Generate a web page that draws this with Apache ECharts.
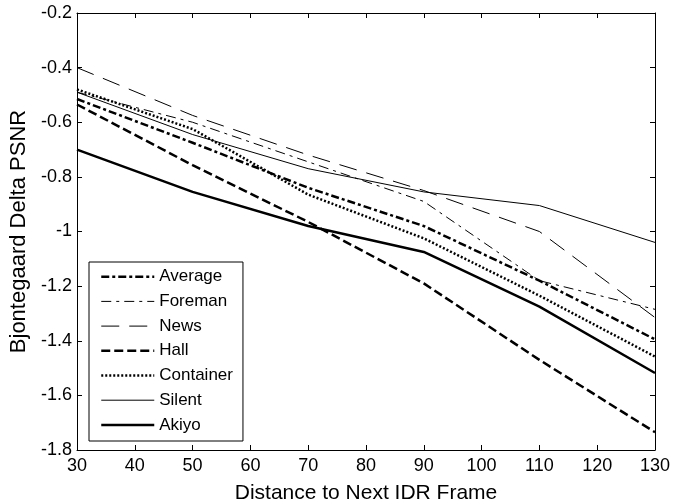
<!DOCTYPE html>
<html>
<head>
<meta charset="utf-8">
<script src="https://cdn.jsdelivr.net/npm/echarts@6/dist/echarts.min.js"></script>
<style>
  html, body { margin: 0; padding: 0; background: #fff; }
  #chart { width: 673px; height: 502px; }
</style>
</head>
<body>
<div id="chart"></div>
<script>
// x 位置（到下一个 IDR 帧的距离）
const distances = [30, 50, 70, 90, 110, 130]
const average = [-0.515, -0.675, -0.84, -0.98, -1.18, -1.395]
const foreman = [-0.49, -0.60, -0.745, -0.89, -1.18, -1.285]
const news = [-0.40, -0.575, -0.72, -0.85, -1.0, -1.315]
const hall = [-0.535, -0.757, -0.965, -1.19, -1.47, -1.735]
const container = [-0.48, -0.625, -0.865, -1.025, -1.235, -1.458]
const silent = [-0.49, -0.645, -0.77, -0.855, -0.905, -1.04]
const akiyo = [-0.70, -0.855, -0.98, -1.075, -1.275, -1.518]

const font = 'Liberation Sans, Arial, sans-serif'

// 线型：宽度、虚线样式
const styles = {
  Average: { width: 2.5, type: [8, 3, 3, 3] },
  Foreman: { width: 1, type: [10, 5, 3, 5] },
  News: { width: 1, type: [18, 10] },
  Hall: { width: 2.5, type: [9, 4] },
  Container: { width: 2.5, type: [2, 2] },
  Silent: { width: 1, type: 'solid' },
  Akiyo: { width: 2.5, type: 'solid' }
}
const seriesValues = {
  Average: average,
  Foreman: foreman,
  News: news,
  Hall: hall,
  Container: container,
  Silent: silent,
  Akiyo: akiyo
}
const names = Object.keys(seriesValues)

function pairs(ys) {
  return distances.map((x, i) => [x, ys[i]])
}

const chart = echarts.init(document.getElementById('chart'))
const axisLine = { show: true, lineStyle: { color: '#000', width: 1 } }
const tick = { inside: true, length: 5, lineStyle: { color: '#000' } }
const option = {
  backgroundColor: '#fff',
  animation: false,
  grid: { left: 77, right: 18, top: 13, bottom: 52, outerBoundsMode: 'none' },
  legend: {
    orient: 'vertical',
    left: 89,
    top: 262,
    padding: [6.2, 10, 7.6, 11],
    itemWidth: 53,
    itemHeight: 12,
    itemGap: 7.7,
    backgroundColor: '#fff',
    borderColor: '#000',
    borderWidth: 1,
    itemStyle: { opacity: 0 },
    textStyle: { fontFamily: font, fontSize: 17, color: '#000' },
    data: names.map(n => ({
      name: n,
      lineStyle: { color: '#000', width: styles[n].width, type: styles[n].type }
    }))
  },
  xAxis: [
    {
      type: 'value', min: 30, max: 130, interval: 10,
      name: 'Distance to Next IDR Frame',
      nameLocation: 'middle', nameGap: 33,
      nameTextStyle: { fontFamily: font, fontSize: 21, color: '#000' },
      axisLine: axisLine,
      axisTick: tick,
      axisLabel: { fontFamily: font, fontSize: 18, color: '#000', margin: 7 },
      splitLine: { show: false }
    },
    {
      type: 'value', min: 30, max: 130, interval: 10, position: 'top',
      axisLine: axisLine,
      axisTick: tick,
      axisLabel: { show: false },
      splitLine: { show: false }
    }
  ],
  yAxis: [
    {
      type: 'value', min: -1.8, max: -0.2, interval: 0.2,
      name: 'Bjontegaard Delta PSNR',
      nameLocation: 'middle', nameGap: 44, nameRotate: 90,
      nameTextStyle: { fontFamily: font, fontSize: 22, color: '#000' },
      axisLine: axisLine,
      axisTick: tick,
      axisLabel: {
        fontFamily: font, fontSize: 18, color: '#000', margin: 5,
        formatter: v => String(Math.round(v * 10) / 10)
      },
      splitLine: { show: false }
    },
    {
      type: 'value', min: -1.8, max: -0.2, interval: 0.2, position: 'right',
      axisLine: axisLine,
      axisTick: tick,
      axisLabel: { show: false },
      splitLine: { show: false }
    }
  ],
  series: names.map(n => ({
    name: n,
    type: 'line',
    data: pairs(seriesValues[n]),
    symbol: 'none',
    itemStyle: { color: '#000' },
    lineStyle: { color: '#000', width: styles[n].width, type: styles[n].type }
  }))
}
chart.setOption(option)
</script>
</body>
</html>
